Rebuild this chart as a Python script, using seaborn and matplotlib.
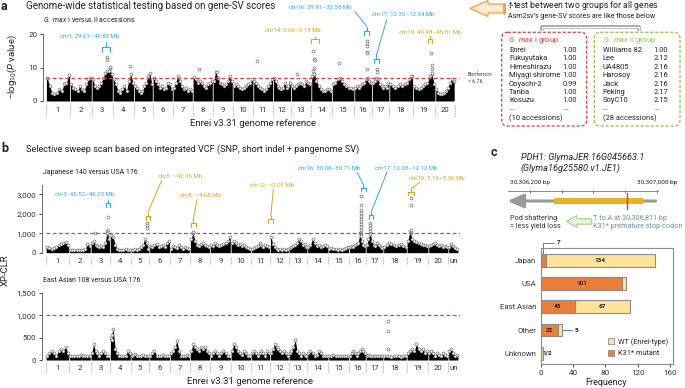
import numpy as np
import pandas as pd
import matplotlib
matplotlib.use("Agg")
import matplotlib.pyplot as plt
import seaborn as sns
from matplotlib.patches import FancyBboxPatch, Polygon, Patch

# ---------------- data ----------------
chroms_a = [str(i) for i in range(1, 21)]
span_a = [24, 21.7, 21, 21.3, 18.7, 20, 20, 20, 20, 20.6, 19.7, 18, 20.3, 20.7, 22.3, 17.7, 17.3, 23.7, 22.3, 19.3]
prof_a = [
    [7.0, 4.5, 2.5, 2.0, 2.5, 3.5, 3.0, 5.0, 5.5, 7.8],
    [5.0, 4.0, 3.5, 3.0, 4.5, 3.5, 3.0, 5.0, 6.5, 6.8],
    [6.5, 4.5, 4.0, 4.5, 5.5, 7.0, 8.5, 9.0, 10.0, 8.0],
    [6.5, 5.0, 3.0, 2.5, 3.5, 4.5, 3.0, 6.0, 8.0, 5.5],
    [4.5, 4.0, 3.0, 2.5, 3.0, 4.5, 5.5, 7.5, 8.5, 5.0],
    [6.8, 6.0, 5.0, 4.0, 4.5, 3.5, 4.0, 5.5, 5.0, 3.5],
    [4.0, 5.5, 7.5, 6.0, 4.5, 3.5, 4.0, 3.0, 3.5, 3.0],
    [7.3, 6.5, 5.5, 6.0, 5.5, 4.5, 4.0, 5.0, 5.5, 6.0],
    [6.0, 8.8, 7.0, 5.5, 5.0, 4.5, 5.0, 6.0, 7.5, 6.0],
    [4.5, 5.0, 4.5, 4.0, 3.5, 4.0, 4.5, 5.0, 5.5, 6.5],
    [6.0, 5.5, 4.5, 4.0, 3.5, 3.0, 3.5, 4.5, 5.5, 6.5],
    [7.0, 6.0, 4.5, 4.0, 3.5, 4.0, 5.5, 4.0, 4.5, 5.5],
    [4.5, 4.0, 4.5, 5.0, 5.5, 5.0, 4.5, 6.0, 5.5, 5.0],
    [7.5, 8.0, 6.0, 4.5, 3.5, 3.0, 3.0, 3.5, 3.5, 3.0],
    [5.0, 5.5, 6.5, 7.0, 6.0, 5.0, 4.5, 4.0, 4.0, 3.5],
    [4.0, 4.5, 4.0, 4.5, 5.0, 5.5, 6.5, 7.0, 6.0, 5.5],
    [5.5, 6.0, 7.0, 6.5, 5.0, 4.5, 4.0, 4.5, 4.0, 5.5],
    [5.0, 4.5, 4.0, 4.5, 5.0, 4.5, 5.0, 5.5, 6.5, 7.5],
    [4.5, 4.0, 3.5, 4.0, 4.5, 5.0, 5.5, 7.5, 8.0, 5.0],
    [3.5, 2.5, 2.0, 2.0, 2.5, 3.0, 4.0, 5.5, 6.5, 6.0],
]
# (chromosome index 1-based, relative position, value)
peaks_a = [
    (3, 0.72, 13.0), (3, 0.73, 12.2), (3, 0.85, 10.2), (3, 0.80, 9.0),
    (4, 0.82, 10.4), (8, 0.33, 9.5), (9, 0.20, 8.8), (11, 0.20, 11.8), (13, 0.30, 8.2),
    (14, 0.10, 15.0), (14, 0.15, 12.5), (14, 0.18, 12.2), (14, 0.12, 10.0), (14, 0.10, 9.0), (14, 0.14, 8.0),
    (15, 0.30, 11.2),
    (16, 0.72, 17.8), (16, 0.73, 17.3), (16, 0.71, 16.3), (16, 0.72, 14.5), (16, 0.74, 14.2), (16, 0.73, 9.6),
    (17, 0.29, 9.5), (17, 0.30, 8.7), (18, 0.92, 7.6),
    (19, 0.82, 14.4), (19, 0.83, 10.6), (19, 0.84, 9.5), (19, 0.83, 8.5),
]
bonferroni = 6.76

chroms_b = [str(i) for i in range(1, 21)] + ["un"]
span_b = [23.3, 21.7, 19.3, 20.7, 18.6, 20.7, 20, 20, 20.7, 20.3, 19, 18.7, 18.6, 21, 20.7, 16.7, 17.6, 23.4, 21.6, 20, 10]
prof_b1 = [
    [300, 250, 200, 250, 300, 400, 450, 500, 550, 400],
    [150, 150, 120, 150, 150, 130, 150, 200, 450, 350],
    [500, 600, 400, 350, 300, 350, 300, 500, 1100, 700],
    [900, 800, 400, 200, 150, 150, 150, 200, 150, 150],
    [150, 150, 200, 150, 200, 300, 400, 700, 500, 200],
    [350, 300, 400, 450, 300, 350, 400, 300, 500, 600],
    [200, 350, 300, 250, 400, 300, 200, 300, 250, 200],
    [700, 1000, 600, 400, 350, 450, 500, 400, 350, 300],
    [400, 350, 500, 400, 350, 400, 450, 500, 600, 800],
    [500, 600, 500, 400, 450, 350, 400, 300, 250, 200],
    [200, 250, 300, 350, 500, 400, 300, 400, 350, 300],
    [800, 450, 300, 200, 150, 200, 150, 200, 150, 200],
    [250, 300, 350, 400, 500, 700, 600, 400, 450, 300],
    [300, 400, 700, 500, 350, 400, 300, 350, 400, 350],
    [200, 250, 200, 200, 150, 200, 150, 200, 250, 300],
    [300, 350, 300, 400, 450, 500, 1000, 600, 400, 350],
    [400, 700, 1000, 600, 400, 350, 500, 400, 300, 250],
    [300, 400, 500, 450, 400, 350, 400, 450, 350, 300],
    [600, 1100, 700, 600, 550, 500, 450, 400, 400, 350],
    [350, 400, 450, 500, 400, 350, 400, 300, 350, 300],
    [300, 450, 350, 250, 200],
]
peaks_b1 = [
    (3, 0.22, 990), (3, 0.88, 1850), (3, 0.88, 1150), (3, 0.87, 1000),
    (5, 0.88, 1500), (5, 0.89, 1400), (5, 0.90, 1250), (8, 0.15, 1050),
    (16, 0.72, 2900), (16, 0.72, 2450), (16, 0.72, 2200), (16, 0.72, 2050), (16, 0.72, 1900),
    (16, 0.72, 1750), (16, 0.72, 1600), (16, 0.72, 1450), (16, 0.72, 1300), (16, 0.72, 1150),
    (16, 0.72, 1000), (16, 0.72, 850),
    (17, 0.24, 1500), (17, 0.24, 1400), (17, 0.24, 1250), (17, 0.24, 1100), (17, 0.24, 950),
    (19, 0.19, 2800), (19, 0.19, 2450), (19, 0.19, 1150), (19, 0.19, 1000),
]
prof_b2 = [
    [100, 150, 200, 150, 100, 200, 250, 200, 300, 150],
    [100, 80, 100, 80, 100, 120, 100, 80, 100, 90],
    [150, 350, 200, 150, 100, 150, 200, 150, 100, 80],
    [500, 700, 250, 150, 100, 80, 80, 100, 200, 150],
    [100, 120, 130, 100, 80, 100, 120, 100, 90, 80],
    [80, 150, 200, 100, 80, 100, 120, 100, 80, 90],
    [150, 200, 300, 420, 200, 100, 80, 100, 120, 100],
    [200, 350, 300, 250, 200, 300, 250, 300, 200, 150],
    [100, 150, 200, 150, 100, 150, 200, 150, 100, 80],
    [200, 350, 300, 200, 150, 120, 200, 150, 100, 80],
    [150, 200, 150, 100, 150, 200, 150, 100, 200, 150],
    [150, 250, 350, 300, 250, 200, 150, 200, 150, 100],
    [150, 200, 300, 450, 200, 150, 100, 150, 120, 100],
    [150, 200, 150, 100, 120, 200, 150, 100, 80, 100],
    [80, 100, 120, 100, 80, 100, 90, 80, 100, 80],
    [100, 150, 200, 150, 100, 150, 200, 250, 200, 150],
    [100, 120, 100, 80, 100, 90, 80, 100, 90, 80],
    [80, 100, 80, 70, 80, 90, 80, 70, 80, 90],
    [150, 200, 250, 200, 350, 250, 200, 250, 150, 200],
    [150, 200, 150, 100, 150, 120, 100, 150, 120, 100],
    [200, 250, 150, 100, 120],
]
peaks_b2 = [(4, 0.12, 550), (4, 0.12, 450), (18, 0.20, 880), (18, 0.20, 650), (18, 0.20, 240)]
xpclr_cut = 1000

group1_names = ["Enrei", "Fukuyutaka", "Himeshirazu", "Miyagi shirome", "Ooyachi-2", "Tanba", "Kosuzu"]
group1_vals = ["1.00", "1.00", "1.00", "1.00", "0.99", "1.00", "1.00"]
group2_names = ["Williams 82", "Lee", "UA4805", "Harosoy", "Jack", "Peking", "SoyC10"]
group2_vals = ["1.00", "2.12", "2.16", "2.16", "2.16", "2.17", "2.15"]

regions = ["Japan", "USA", "East Asian", "Other", "Unknown"]
mutant = [7, 101, 43, 22, 1]
wildtype = [134, 5, 67, 5, 2]

gene_start, gene_end, snp_pos = 30306351, 30306912, 30306811
scale_ticks = [30306200, 30306400, 30306600, 30306800, 30307000]

# ---------------- style ----------------
sns.set_theme(style="ticks")
plt.rcParams['font.family'] = ['Roboto', 'DejaVu Sans']
plt.rcParams['mathtext.fontset'] = 'custom'
plt.rcParams['mathtext.rm'] = 'Roboto'
plt.rcParams['mathtext.it'] = 'Roboto:italic'
plt.rcParams['mathtext.bf'] = 'Roboto:bold'

CYAN = "#2eaae1"
GOLD = "#d6a51c"
RED = "#e8393e"
GREEN = "#8dc63f"
W, H = 685, 388
fig = plt.figure(figsize=(6.85, 3.88), dpi=100)


def ax_px(x0, y0, x1, y1):
    return fig.add_axes([x0 / W, 1 - y1 / H, (x1 - x0) / W, (y1 - y0) / H])


def manhattan(ax, spans, profs, peaks, names, thr, sep, lab, end_sep, fs=5.6):
    starts = np.concatenate([[0], np.cumsum(spans)[:-1]])
    rows = []
    for s, w, p in zip(starts, spans, profs):
        n = len(p)
        xs = s + (np.arange(n) + 0.5) / n * w
        ax.fill_between(np.r_[s + 0.4, xs, s + w - 0.4], 0, np.r_[p[0], p, p[-1]],
                        color="black", lw=0, zorder=2)
        rows += list(zip(xs, p))
    for c, f, v in peaks:
        rows.append((starts[c - 1] + f * spans[c - 1], v))
    df = pd.DataFrame(rows, columns=["pos", "val"])
    sns.scatterplot(data=df, x="pos", y="val", ax=ax, s=4.5, facecolor="white",
                    edgecolor="#666666", linewidth=0.45, zorder=3, legend=False)
    total = float(np.sum(spans))
    ax.hlines(thr, 0, total + 4, colors=RED, linestyles=(0, (3, 2)), lw=0.9, zorder=4)
    bounds = list(starts) + ([total] if end_sep else [])
    for b in bounds:
        ax.plot([b, b], sep, ls=(0, (1.5, 1.5)), color="#9a9a9a", lw=0.6, clip_on=False)
    for s, w, nm in zip(starts, spans, names):
        ax.text(s + w / 2, lab, nm, ha="center", va="center", fontsize=fs, color="#333", clip_on=False)
    sns.despine(ax=ax, bottom=True)
    ax.set_xticks([])
    ax.set_xlabel("")
    ax.set_ylabel("")
    ax.tick_params(axis="y", length=2.5, width=0.6, pad=1.5, labelsize=5.8, colors="#333")
    ax.spines["left"].set_linewidth(0.6)
    ax.spines["left"].set_color("#555")


# panel a
axa = ax_px(43, 29, 460, 103)
axa.set_xlim(-3, 414)
axa.set_ylim(-0.6, 21.5)
manhattan(axa, span_a, prof_a, peaks_a, chroms_a, bonferroni, [-1.2, -4.5], -2.7, True)
axa.set_yticks([0, 10, 20])
axa.spines["left"].set_bounds(0, 20)

# panel b1
axb1 = ax_px(41.7, 185, 460, 255)
axb1.set_xlim(-4, 414.3)
axb1.set_ylim(-120, 3470)
manhattan(axb1, span_b, prof_b1, peaks_b1, chroms_b, xpclr_cut, [-205, -630], -440, False)
axb1.set_yticks([0, 1000, 2000, 3000])
axb1.set_yticklabels(["0", "1,000", "2,000", "3,000"])
axb1.spines["left"].set_bounds(0, 3470)

# panel b2
axb2 = ax_px(41.7, 291.9, 460, 362.7)
axb2.set_xlim(-4, 414.3)
axb2.set_ylim(-60, 1520)
manhattan(axb2, span_b, prof_b2, peaks_b2, chroms_b, xpclr_cut, [-67, -290], -180, False)
axb2.set_yticks([0, 500, 1000, 1500])
axb2.set_yticklabels(["0", "500", "1,000", "1,500"])
axb2.spines["left"].set_bounds(0, 1500)

# panel c bars
axc = ax_px(540.5, 248.3, 672.5, 364)
dfc = pd.DataFrame({"region": regions, "mutant": mutant, "wt": wildtype})
dfc["total"] = dfc["mutant"] + dfc["wt"]
WTC, MUTC = "#fde29b", "#e8803a"
sns.barplot(data=dfc, y="region", x="total", color=WTC, saturation=1, width=0.55,
            edgecolor="#8c8c8c", linewidth=0.8, ax=axc, orient="h")
sns.barplot(data=dfc, y="region", x="mutant", color=MUTC, saturation=1, width=0.55,
            edgecolor="#8c8c8c", linewidth=0.8, ax=axc, orient="h")
axc.set_xlim(0, 163)
axc.set_ylim(4.46, -0.51)
axc.set_xticks([0, 40, 80, 120, 160])
axc.set_xlabel("Frequency", fontsize=6.5, labelpad=2, color="#222")
axc.set_ylabel("")
axc.tick_params(axis="x", length=2.5, width=0.6, pad=1.5, labelsize=5.8, colors="#333")
axc.tick_params(axis="y", length=0, pad=3, labelsize=5.6, colors="#333")
for sp in axc.spines.values():
    sp.set_visible(True)
    sp.set_color("#8c8c8c")
    sp.set_linewidth(0.8)
lbl = dict(fontsize=4.6, fontweight="bold", ha="center", va="center", color="#222")
for i, (m, w) in enumerate(zip(mutant, wildtype)):
    if m >= 20:
        axc.text(m / 2, i, str(m), **lbl)
    if w >= 20:
        axc.text(m + w / 2, i, str(w), **lbl)
axc.text(mutant[4] + wildtype[4] + 5, 4, f"{mutant[4]}/{wildtype[4]}", **lbl)
BLUE = "#4a86c8"
axc.plot([3.5, 3.5, 17], [-0.25, -0.75, -0.75], color=BLUE, lw=0.7, clip_on=False)
axc.text(22, -0.75, str(mutant[0]), **lbl)
axc.plot([26.5, 39], [3, 3], color=BLUE, lw=0.7)
axc.text(44, 3, str(wildtype[3]), **lbl)
handles = [Patch(facecolor=WTC, edgecolor="#8c8c8c", lw=0.6, label="WT (Enrei-type)"),
           Patch(facecolor=MUTC, edgecolor="#8c8c8c", lw=0.6, label="K31* mutant")]
axc.legend(handles=handles, loc="lower right", bbox_to_anchor=(1.02, 0.0), frameon=False,
           fontsize=5.3, handlelength=0.8, handleheight=0.8, handletextpad=0.6, labelspacing=0.6)

# gene model axes (bp coordinates)
axg = ax_px(500, 180, 685, 215)
axg.set_xlim(30306010.6, 30307178.5)
axg.set_ylim(215, 180)
axg.axis("off")
axg.plot([30306060, 30307010], [191, 191], color="#777", lw=0.6)
for t in scale_ticks:
    axg.plot([t, t], [189.5, 192.5], color="#777", lw=0.6)
axg.annotate("", xy=(30306040, 201), xytext=(30307010, 201),
             arrowprops=dict(arrowstyle="-|>,head_length=0.8,head_width=0.35", color="#9a9a9a", lw=2.2))
axg.fill_between([gene_start, gene_end], 197.7, 204.3, color="#e6b323", lw=0, zorder=3)
axg.plot([snp_pos, snp_pos], [193.3, 208.7], color="#f03030", lw=1.0, zorder=4)

# ---------------- overlay (annotations) ----------------
ov = fig.add_axes([0, 0, 1, 1], zorder=10)
ov.set_xlim(0, W)
ov.set_ylim(H, 0)
ov.axis("off")
ov.patch.set_alpha(0)


def T(x, y, s, fs=6, ha="left", color="#222", **kw):
    ov.text(x, y, s, fontsize=fs, ha=ha, va="center", color=color, **kw)


def bracket(x0, x1, y, color, depth=3.5, stub=None, lw=0.8):
    ov.plot([x0, x0, x1, x1], [y + depth, y, y, y + depth], color=color, lw=lw)
    if stub is not None:
        xm = (x0 + x1) / 2
        ov.plot([xm, xm], [y, stub], color=color, lw=lw)


def leader(x0, y0, x1, y1, color):
    ov.plot([x0, x1], [y0, y1], color=color, lw=0.7)


# panel a text
T(1, 6, "a", fs=9, fontweight="bold")
T(26, 6, "Genome-wide statistical testing based on gene-SV scores", fs=7)
T(43, 20, r"$\mathit{G.\ max}$ I versus II accessions", fs=5)
T(253, 123, "Enrei v3.31 genome reference", fs=6.8, ha="center")
T(12, 67, r"$-$log$_{10}$($\mathit{P}$ value)", fs=6.8, ha="center", rotation=90)
T(468, 75, "Bonferroni", fs=3.8, color="#444")
T(468, 81.5, "= 6.76", fs=3.8, color="#444")

T(90, 36, "chr3: 29.61\u201346.83 Mb", fs=4.3, ha="center", color=CYAN)
bracket(101.7, 110, 46.7, CYAN, depth=5, stub=41.7)
T(293, 30, "chr14: 0.66\u20139.18 Mb", fs=4.3, ha="center", color=GOLD)
bracket(311, 319, 39.3, GOLD, depth=4, stub=36.5)
T(320, 7.3, "chr16: 29.91\u201332.58 Mb", fs=4.3, ha="center", color=CYAN)
leader(355, 11.5, 366.7, 26.5, CYAN)
bracket(364, 369.3, 31, CYAN, depth=3.5, stub=26.5)
T(403, 14, "chr17: 12.30\u201312.54 Mb", fs=4.3, ha="center", color=CYAN)
leader(386.7, 19.5, 376.5, 55, CYAN)
bracket(374, 379, 59, CYAN, depth=3.5, stub=55)
T(430, 32, "chr19: 40.48\u201345.81 Mb", fs=4.3, ha="center", color=GOLD)
bracket(428, 432.3, 39.3, GOLD, depth=4, stub=36)

# t-test box
ov.add_patch(Polygon([(470, 8.5), (488, 0.5), (488, 4), (505, 4), (505, 13), (488, 13), (488, 16.5)],
                     closed=True, facecolor="#fdebd3", edgecolor="#f2a040", lw=0.9))
ov.plot([504, 504], [4, 13], color="#f2a040", lw=2)
T(508, 6, r"$\mathit{t}$-test between two groups for all genes", fs=6.2)
T(508, 16.5, "Asm2sv\u2019s gene-SV scores are like those below", fs=5.1)
ov.plot([542.5, 542.5, 639.5, 639.5], [31, 27, 27, 31], color="#9a9a9a", lw=2.6, solid_capstyle="butt")
ov.plot([542.5, 542.5, 639.5, 639.5], [31.5, 27, 27, 31.5], color="white", lw=1.0, solid_capstyle="butt")
ov.add_patch(FancyBboxPatch((501.7, 32.3), 85, 93.7, boxstyle="round,pad=0,rounding_size=6",
                            facecolor="white", edgecolor=RED, lw=0.9, ls=(0, (2.5, 1.5))))
ov.add_patch(FancyBboxPatch((594.3, 32.3), 85.7, 93.7, boxstyle="round,pad=0,rounding_size=6",
                            facecolor="white", edgecolor=GREEN, lw=0.9, ls=(0, (2.5, 1.5))))
T(508, 40, r"$\mathit{G.\ max}$ I group", fs=5.4, color=RED)
T(602.7, 40, r"$\mathit{G.\ max}$ II group", fs=5.4, color=GREEN)
row_y = [50.7, 59, 67.3, 75.7, 84.3, 92.7, 101]
for y, n1, v1, n2, v2 in zip(row_y, group1_names, group1_vals, group2_names, group2_vals):
    T(509, y, n1, fs=5.4)
    T(562.3, y, v1, fs=5.4)
    T(602.7, y, n2, fs=5.4)
    T(653.3, y, v2, fs=5.4)
for x in (509, 563, 602.7, 654):
    T(x, 108.5, "...", fs=5.4)
T(509, 118.3, "(10 accessions)", fs=5.4)
T(602.7, 118.3, "(28 accessions)", fs=5.4)

# panel b text
T(1, 149, "b", fs=9, fontweight="bold")
T(26, 149, "Selective sweep scan based on integrated VCF (SNP, short indel + pangenome SV)", fs=6.6)
T(43, 173, "Japanese 140 versus USA 176", fs=5)
T(43, 280, "East Asian 108 versus USA 176", fs=5)
T(250, 381, "Enrei v3.31 genome reference", fs=6.8, ha="center")
T(5, 270, "XP-CLR", fs=6.8, ha="center", rotation=90)

T(85, 195, "chr3: 45.52\u201346.23 Mb", fs=4.3, ha="center", color=CYAN)
bracket(106, 110, 203.3, CYAN, depth=3.5, stub=200)
T(180, 176.7, "chr5: ~42.96 Mb", fs=4.3, ha="center", color=GOLD)
leader(161.7, 180.5, 147.8, 212.5, GOLD)
bracket(145.7, 150, 216, GOLD, depth=3.5, stub=212.5)
T(200, 195.7, "chr8: ~4.68 Mb", fs=4.3, ha="center", color=GOLD)
leader(197, 199.5, 193.2, 220, GOLD)
bracket(190.7, 195.7, 223.3, GOLD, depth=3.5, stub=220)
T(272, 185.3, "chr12: ~0.01 Mb", fs=4.3, ha="center", color=GOLD)
leader(273.3, 189, 270.8, 216, GOLD)
bracket(268.3, 273.3, 219, GOLD, depth=3.5, stub=216)
T(329, 168.3, "chr16: 30.08\u201330.71 Mb", fs=4.3, ha="center", color=CYAN)
leader(357, 172, 363.5, 185, CYAN)
bracket(361, 366, 187.5, CYAN, depth=3, stub=185)
T(406, 168.3, "chr17: 12.03\u201312.12 Mb", fs=4.3, ha="center", color=CYAN)
leader(387, 172, 371.2, 212, CYAN)
bracket(369, 373.3, 215, CYAN, depth=3.5, stub=212)
T(437, 178.7, "chr19: 5.19\u20135.36 Mb", fs=4.3, ha="center", color=GOLD)
leader(420, 182, 411.2, 189, GOLD)
bracket(408.3, 414, 191.7, GOLD, depth=3.5, stub=189)

# panel c text
T(491, 153, "c", fs=9, fontweight="bold")
T(521, 158, "PDH1: GlymaJER.16G045663.1", fs=6.6, fontstyle="italic")
T(521, 168, "(Glyma16g25580.v1.JE1)", fs=6.6, fontstyle="italic")
T(530, 182.7, "30,306,200 bp", fs=4.6, ha="center")
T(656.7, 182.7, "30,307,000 bp", fs=4.6, ha="center")
T(510, 218.7, "Pod shattering", fs=5.2, color="#333")
T(510, 226, "= less yield loss", fs=5.2, color="#333")
ov.add_patch(Polygon([(566.7, 221.5), (577, 215.5), (577, 218.8), (591.7, 218.8), (591.7, 224.2),
                      (577, 224.2), (577, 227.5)], closed=True, facecolor="#e6f2dc", edgecolor="#a9d08e", lw=0.8))
T(593, 218.7, "T to A at 30,306,811 bp", fs=5.2, color="#6b8fb3")
T(593, 226, "K31* premature stop codon", fs=5.2, color="#6b8fb3")

fig.savefig("out.png", dpi=100)
